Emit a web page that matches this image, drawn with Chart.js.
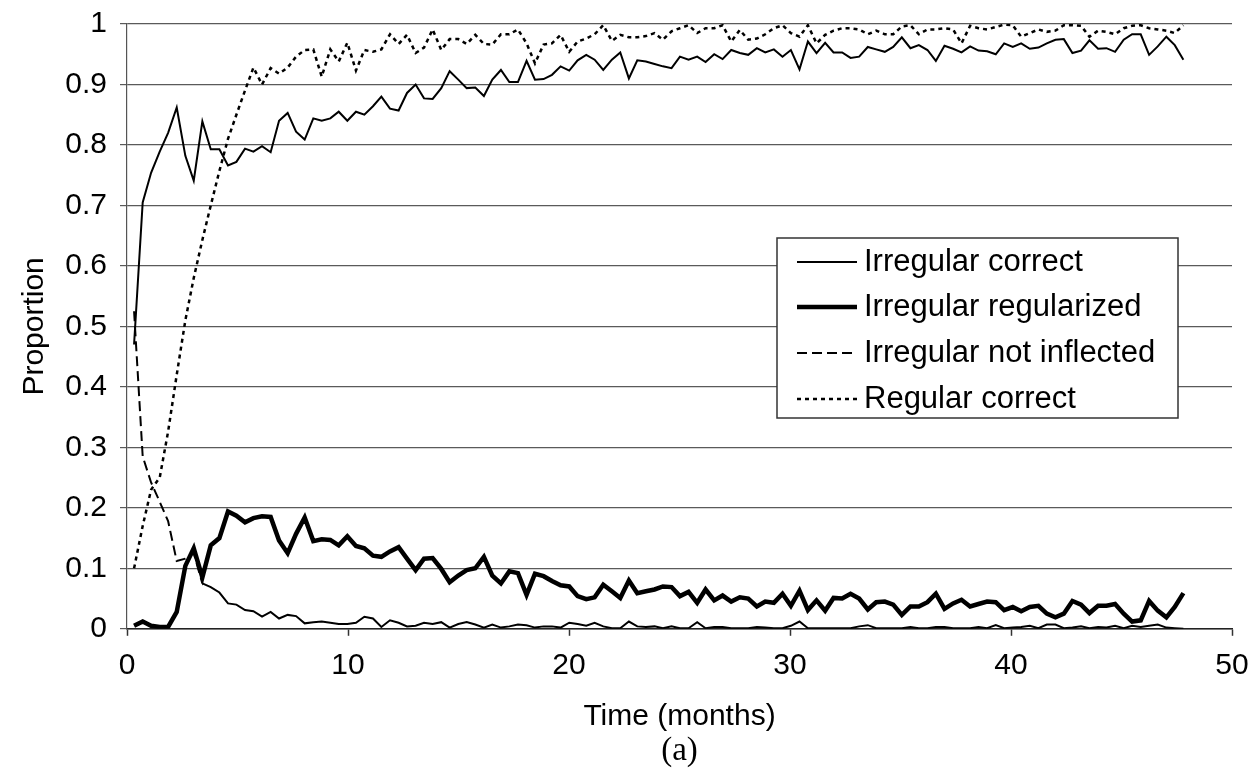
<!DOCTYPE html>
<html lang="en">
  <head>
    <meta charset="UTF-8" />
    <title>Proportion over time</title>
    <script src="https://cdn.jsdelivr.net/npm/chart.js"></script>
    <style>
      body {
        margin: 0;
        background-color: #ffffff;
      }
      #wrap {
        width: 1253px;
        height: 771px;
      }
    </style>
  </head>
  <body>
    <div id="wrap">
      <canvas id="propChart" width="1253" height="771"></canvas>
    </div>

    <script>
      // sampling times (months)
      const months = [
        0.32, 0.71, 1.09, 1.48, 1.86, 2.25, 2.64, 3.02, 3.41, 3.79,
        4.18, 4.57, 4.95, 5.34, 5.72, 6.11, 6.5, 6.88, 7.27, 7.65,
        8.04, 8.43, 8.81, 9.2, 9.58, 9.97, 10.36, 10.74, 11.13, 11.51,
        11.9, 12.29, 12.67, 13.06, 13.44, 13.83, 14.22, 14.6, 14.99, 15.37,
        15.76, 16.15, 16.53, 16.92, 17.3, 17.69, 18.08, 18.46, 18.85, 19.23,
        19.62, 20.01, 20.39, 20.78, 21.16, 21.55, 21.94, 22.32, 22.71, 23.09,
        23.48, 23.87, 24.25, 24.64, 25.02, 25.41, 25.8, 26.18, 26.57, 26.95,
        27.34, 27.73, 28.11, 28.5, 28.88, 29.27, 29.66, 30.04, 30.43, 30.81,
        31.2, 31.59, 31.97, 32.36, 32.74, 33.13, 33.52, 33.9, 34.29, 34.67,
        35.06, 35.45, 35.83, 36.22, 36.6, 36.99, 37.38, 37.76, 38.15, 38.53,
        38.92, 39.31, 39.69, 40.08, 40.46, 40.85, 41.24, 41.62, 42.01, 42.39,
        42.78, 43.17, 43.55, 43.94, 44.32, 44.71, 45.1, 45.48, 45.87, 46.25,
        46.64, 47.03, 47.41, 47.8
      ];

      const irregularCorrect = [
        0.47, 0.705, 0.754, 0.789, 0.82, 0.862, 0.782, 0.741, 0.839, 0.793,
        0.793, 0.766, 0.772, 0.794, 0.789, 0.798, 0.788, 0.84, 0.853, 0.822,
        0.809, 0.844, 0.84, 0.844, 0.855, 0.84, 0.855, 0.85, 0.864, 0.88,
        0.86, 0.857, 0.886, 0.9, 0.877, 0.876, 0.894, 0.922, 0.908, 0.894,
        0.895, 0.881, 0.908, 0.924, 0.904, 0.904, 0.939, 0.908, 0.909, 0.916,
        0.93, 0.923, 0.94, 0.949, 0.941, 0.924, 0.941, 0.953, 0.91, 0.94,
        0.938, 0.934, 0.93, 0.927, 0.946, 0.941, 0.946, 0.937, 0.95, 0.942,
        0.957, 0.952, 0.949, 0.96, 0.953, 0.958, 0.946, 0.957, 0.925, 0.971,
        0.952, 0.969, 0.953, 0.953, 0.944, 0.946, 0.962, 0.958, 0.954, 0.962,
        0.978, 0.96, 0.965, 0.957, 0.939, 0.964, 0.959, 0.953, 0.963, 0.956,
        0.955, 0.95, 0.968, 0.962, 0.968, 0.959, 0.961, 0.968, 0.974, 0.975,
        0.952, 0.956, 0.973, 0.959, 0.96, 0.954, 0.974, 0.983, 0.983, 0.949,
        0.963, 0.979, 0.965, 0.941
      ];

      const irregularRegularized = [
        0.005, 0.012, 0.005, 0.003, 0.003, 0.028, 0.104, 0.133, 0.085, 0.138,
        0.15, 0.194, 0.187, 0.176, 0.183, 0.186, 0.185, 0.146, 0.125, 0.157,
        0.184, 0.145, 0.148, 0.147, 0.138, 0.153, 0.137, 0.133, 0.121, 0.119,
        0.128, 0.135, 0.116, 0.097, 0.116, 0.117, 0.099, 0.077, 0.088, 0.097,
        0.1, 0.119, 0.088, 0.075, 0.095, 0.092, 0.056, 0.091, 0.087, 0.079,
        0.072, 0.07, 0.054, 0.049, 0.052, 0.073, 0.062, 0.051, 0.08, 0.059,
        0.062, 0.065, 0.07, 0.069, 0.054, 0.061, 0.043, 0.065, 0.047, 0.055,
        0.045, 0.052, 0.05, 0.037, 0.045, 0.043, 0.058, 0.038, 0.063, 0.031,
        0.047, 0.03, 0.051, 0.05, 0.058, 0.05, 0.032, 0.044, 0.045, 0.04,
        0.023, 0.037, 0.037, 0.044, 0.058, 0.033, 0.042, 0.048, 0.037, 0.041,
        0.045, 0.044, 0.031, 0.036, 0.029, 0.036, 0.038, 0.025, 0.019, 0.025,
        0.046, 0.04, 0.026, 0.038, 0.038, 0.041, 0.025, 0.012, 0.014, 0.046,
        0.03, 0.019, 0.036, 0.059
      ];

      const irregularNotInflected = [
        0.525, 0.285, 0.242, 0.21, 0.178, 0.112, 0.116, 0.125, 0.075, 0.069,
        0.06, 0.042, 0.04, 0.031, 0.029, 0.02, 0.028, 0.017, 0.023, 0.021,
        0.009, 0.011, 0.012, 0.01, 0.008, 0.008, 0.01, 0.02, 0.017, 0.003,
        0.014, 0.01, 0.004, 0.005, 0.01, 0.008, 0.011, 0.002, 0.008, 0.011,
        0.007, 0.002, 0.007, 0.002, 0.004, 0.007, 0.006, 0.002, 0.004, 0.004,
        0.002, 0.01, 0.008, 0.005, 0.01, 0.004, 0.001, 0.001, 0.012, 0.004,
        0.003, 0.004, 0.001, 0.004, 0.001, 0.001, 0.011, 0.001, 0.003, 0.003,
        0.001, 0.001, 0.001, 0.003, 0.002, 0.001, 0.001, 0.005, 0.012, 0.001,
        0.001, 0.001, 0.001, 0.001, 0.001, 0.004, 0.006, 0.001, 0.001, 0.001,
        0.001, 0.003, 0.001, 0.001, 0.003, 0.003, 0.001, 0.001, 0.001, 0.003,
        0.001, 0.006, 0.001, 0.002, 0.003, 0.005, 0.001, 0.007, 0.007, 0.001,
        0.002, 0.004, 0.001, 0.003, 0.002, 0.005, 0.001, 0.005, 0.003, 0.005,
        0.007, 0.002, 0.001, 0.0
      ];

      const regularCorrect = [
        0.1, 0.17, 0.23, 0.25, 0.326, 0.42, 0.51, 0.58, 0.643, 0.7,
        0.757, 0.81, 0.85, 0.89, 0.928, 0.9, 0.927, 0.918, 0.928, 0.946,
        0.957, 0.958, 0.913, 0.958, 0.938, 0.969, 0.923, 0.957, 0.954, 0.958,
        0.983, 0.967, 0.982, 0.952, 0.961, 0.991, 0.957, 0.975, 0.975, 0.967,
        0.982, 0.967, 0.966, 0.983, 0.983, 0.991, 0.968, 0.935, 0.966, 0.968,
        0.982, 0.954, 0.971, 0.976, 0.983, 0.998, 0.972, 0.982, 0.978, 0.978,
        0.98, 0.985, 0.974, 0.988, 0.993, 0.998, 0.985, 0.993, 0.993, 0.998,
        0.971, 0.99, 0.974, 0.976, 0.983, 0.993, 0.998, 0.985, 0.979, 0.998,
        0.968, 0.982, 0.989, 0.993, 0.993, 0.991, 0.983, 0.989, 0.983, 0.983,
        0.996, 0.998, 0.983, 0.991, 0.991, 0.993, 0.991, 0.968, 0.997, 0.993,
        0.991, 0.995, 0.999, 0.998, 0.979, 0.985, 0.991, 0.987, 0.989, 0.998,
        0.998, 0.997, 0.979, 0.989, 0.987, 0.983, 0.993, 0.997, 0.998, 0.993,
        0.991, 0.989, 0.985, 0.998
      ];

      const seriesNames = [
        "Irregular correct",
        "Irregular regularized",
        "Irregular not inflected",
        "Regular correct",
      ];
      const xTickLabels = ["0", "10", "20", "30", "40", "50"];
      const yTickLabels = ["0", "0.1", "0.2", "0.3", "0.4", "0.5", "0.6", "0.7", "0.8", "0.9", "1"];

      const sans = '"Liberation Sans", Arial, sans-serif';

      function toPoints(values) {
        return months.map((t, i) => ({ x: t, y: values[i] }));
      }

      // legend is drawn inside the plot, with a white box and a frame
      const boxedLegend = {
        id: "boxedLegend",
        afterDatasetsDraw(chart) {
          const ctx = chart.ctx;
          const left = 777, top = 238, w = 401, h = 180;
          ctx.save();
          ctx.fillStyle = "#ffffff";
          ctx.fillRect(left, top, w, h);
          ctx.strokeStyle = "#333333";
          ctx.lineWidth = 1.5;
          ctx.strokeRect(left, top, w, h);

          const rows = [262, 307, 353, 399];
          const dashes = [[], [], [10, 5], [4, 4]];
          chart.data.datasets.forEach((ds, i) => {
            const y = rows[i];
            ctx.beginPath();
            ctx.setLineDash(dashes[i]);
            ctx.lineWidth = ds.borderWidth;
            ctx.strokeStyle = "#000000";
            ctx.moveTo(797, y);
            ctx.lineTo(857, y);
            ctx.stroke();
            ctx.setLineDash([]);
            ctx.fillStyle = "#000000";
            ctx.font = "31px " + sans;
            ctx.textBaseline = "middle";
            ctx.textAlign = "left";
            ctx.fillText(ds.label, 864, y);
          });
          ctx.restore();
        },
      };

      new Chart(document.getElementById("propChart"), {
        type: "line",
        data: {
          datasets: [
            {
              label: seriesNames[0],
              data: toPoints(irregularCorrect),
              borderColor: "#000000",
              borderWidth: 2,
            },
            {
              label: seriesNames[1],
              data: toPoints(irregularRegularized),
              borderColor: "#000000",
              borderWidth: 4.5,
            },
            {
              label: seriesNames[2],
              data: toPoints(irregularNotInflected),
              borderColor: "#000000",
              borderWidth: 2,
              // early part dashed, later short segments look solid
              segment: {
                borderDash: (ctx) => (ctx.p0DataIndex < 8 ? [10, 5] : []),
              },
            },
            {
              label: seriesNames[3],
              data: toPoints(regularCorrect),
              borderColor: "#000000",
              borderWidth: 2.5,
              borderDash: [4, 4],
            },
          ],
        },
        options: {
          responsive: false,
          animation: false,
          elements: {
            point: { radius: 0 },
            line: { tension: 0, borderCapStyle: "butt", borderJoinStyle: "miter" },
          },
          layout: { padding: { left: 0, right: 21, top: 24, bottom: 0 } },
          plugins: {
            legend: { display: false },
            tooltip: { enabled: false },
            title: {
              display: true,
              text: "(a)",
              position: "bottom",
              fullSize: false,
              color: "#000000",
              padding: 0,
              font: { family: '"Liberation Serif", "Times New Roman", serif', size: 33, weight: "normal", lineHeight: 1.2 },
            },
          },
          scales: {
            x: {
              type: "linear",
              min: 0,
              max: 50,
              afterFit: (scale) => {
                scale.height = 102.6;
                // keep the plot edge at x = 50 where the layout padding puts it
                scale.paddingLeft = 0;
                scale.paddingRight = 0;
              },
              ticks: {
                stepSize: 10,
                padding: 12,
                color: "#000000",
                font: { family: sans, size: 30 },
                callback: (v, i) => xTickLabels[i],
              },
              grid: {
                drawOnChartArea: false,
                drawTicks: true,
                tickLength: 7,
                tickColor: "#333333",
                tickWidth: 1.5,
              },
              border: { display: true, color: "#222222", width: 1.5 },
              title: {
                display: true,
                text: "Time (months)",
                color: "#000000",
                padding: { top: 0, bottom: 0 },
                font: { family: sans, size: 30, lineHeight: 1 },
              },
            },
            y: {
              min: 0,
              max: 1,
              afterFit: (scale) => {
                scale.width = 127;
                scale.paddingTop = 0;
                scale.paddingBottom = 0;
              },
              ticks: {
                stepSize: 0.1,
                padding: 13,
                color: "#000000",
                font: { family: sans, size: 30 },
                callback: (v, i) => yTickLabels[i],
              },
              grid: {
                color: "#5a5a5a",
                lineWidth: 1.2,
                drawTicks: true,
                tickLength: 7,
                tickColor: "#5a5a5a",
              },
              border: { display: true, color: "#555555", width: 1.2 },
              title: {
                display: true,
                text: "Proportion",
                color: "#000000",
                padding: { top: 17, bottom: 0 },
                font: { family: sans, size: 30, lineHeight: 1.2 },
              },
            },
          },
        },
        plugins: [boxedLegend],
      });
    </script>
  </body>
</html>
